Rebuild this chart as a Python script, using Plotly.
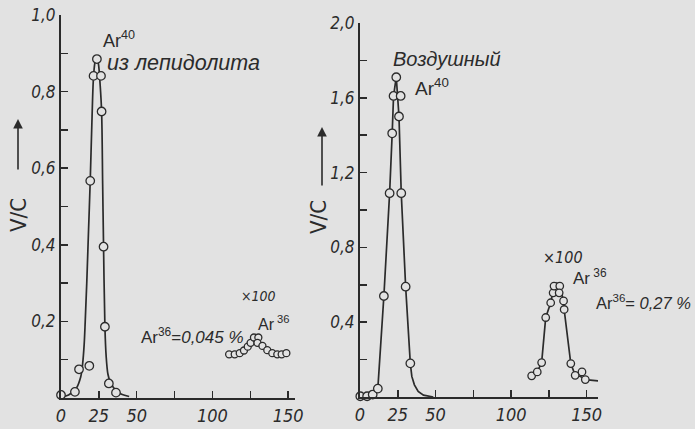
import plotly.graph_objects as go

# ---------------- data ----------------
# left panel: Ar40 from lepidolite
lep_x = [0, 9.2, 11.9, 18.7, 19.3, 21.5, 23.7, 26.4, 26.8, 28.1, 29.0, 31.6, 36.3]
lep_y = [0.008, 0.016, 0.075, 0.084, 0.567, 0.841, 0.885, 0.841, 0.748, 0.395, 0.186, 0.038, 0.014]
lep_cx = [0.5, 5, 10, 13, 14.3, 15.3, 16.0, 17.0, 18.2, 19.3, 20.4, 21.5, 22.6, 23.7, 24.8,
          25.8, 26.8, 27.5, 28.1, 29.0, 29.8, 31.0, 32.5, 34.5, 37.0, 40.0, 45.0]
lep_cy = [0.003, 0.008, 0.025, 0.055, 0.09, 0.14, 0.2, 0.3, 0.44, 0.567, 0.72, 0.84, 0.88, 0.89,
          0.87, 0.82, 0.748, 0.56, 0.395, 0.186, 0.11, 0.062, 0.042, 0.028, 0.017, 0.01, 0.004]
# left panel: Ar36 (x100)
a36l_x = [111.0, 114.7, 118.0, 120.8, 123.3, 125.2, 127.4, 130.3, 129.7, 133.0, 136.2, 139.5, 142.8, 145.7, 148.8]
a36l_y = [0.114, 0.114, 0.117, 0.124, 0.134, 0.144, 0.158, 0.158, 0.144, 0.136, 0.125, 0.117, 0.114, 0.114, 0.117]

# right panel: atmospheric Ar40
air_x = [0.2, 4.7, 8.4, 11.8, 15.8, 19.6, 21.3, 22.2, 24.0, 26.9, 25.8, 27.3, 30.2, 33.3]
air_y = [0.004, 0.004, 0.013, 0.045, 0.54, 1.09, 1.41, 1.61, 1.71, 1.61, 1.50, 1.09, 0.59, 0.18]
air_cx = [0.2, 4.7, 8.4, 11.8, 15.8, 19.6, 21.3, 22.2, 24.0, 25.8, 27.3, 30.2, 33.3, 34.3, 36.0, 38.5, 42.0, 48.5]
air_cy = [0.004, 0.004, 0.013, 0.045, 0.54, 1.09, 1.41, 1.61, 1.71, 1.50, 1.09, 0.59, 0.18, 0.11, 0.065, 0.03, 0.01, 0.0]
# right panel: Ar36 (x100)
a36r_x = [113.6, 117.3, 120.2, 122.9, 126.2, 127.8, 128.4, 132.2, 131.8, 134.7, 135.1, 139.5, 142.4, 146.9, 149.1]
a36r_y = [0.113, 0.134, 0.184, 0.425, 0.504, 0.557, 0.593, 0.593, 0.557, 0.514, 0.468, 0.179, 0.116, 0.134, 0.093]
a36r_cx = [117.3, 120.2, 122.9, 126.2, 128.4, 130.3, 132.2, 134.7, 135.1, 139.5, 142.4, 146.0, 149.1, 159.5]
a36r_cy = [0.134, 0.184, 0.425, 0.504, 0.593, 0.61, 0.593, 0.514, 0.468, 0.179, 0.116, 0.11, 0.093, 0.085]

# ticks
x_tickvals = [0, 25, 50, 100, 150]
x_ticktext = ["0", "25", "50", "100", "150"]
yl_tickvals = [0.2, 0.4, 0.6, 0.8, 1.0]
yl_ticktext = ["0,2", "0,4", "0,6", "0,8", "1,0"]
yr_tickvals = [0.4, 0.8, 1.2, 1.6, 2.0]
yr_ticktext = ["0,4", "0,8", "1,2", "1,6", "2,0"]

# ---------------- styling ----------------
W, H = 695, 429
BG = "#e2e2e2"
INK = "#2b2b2b"
FONT = "Liberation Sans Narrow, DejaVu Sans Condensed, Liberation Sans, sans-serif"
TFONT = "Liberation Sans, DejaVu Sans, sans-serif"


def px(x):
    return x / W


def py(y):
    return 1 - y / H


fig = go.Figure()

line_style = dict(color=INK, width=1.7)


def marker(size):
    return dict(symbol="circle", size=size, color=BG, line=dict(color=INK, width=1.3))


fig.add_trace(go.Scatter(x=lep_cx, y=lep_cy, mode="lines", line=line_style, line_shape="spline",
                         xaxis="x", yaxis="y", cliponaxis=False, hoverinfo="skip"))
fig.add_trace(go.Scatter(x=lep_x, y=lep_y, mode="markers", marker=marker(8.5),
                         xaxis="x", yaxis="y", cliponaxis=False))
fig.add_trace(go.Scatter(x=a36l_x, y=a36l_y, mode="markers", marker=marker(7),
                         xaxis="x", yaxis="y", cliponaxis=False))

fig.add_trace(go.Scatter(x=air_cx, y=air_cy, mode="lines", line=line_style,
                         xaxis="x2", yaxis="y2", cliponaxis=False, hoverinfo="skip"))
fig.add_trace(go.Scatter(x=air_x, y=air_y, mode="markers", marker=marker(8.5),
                         xaxis="x2", yaxis="y2", cliponaxis=False))
fig.add_trace(go.Scatter(x=a36r_cx, y=a36r_cy, mode="lines", line=line_style,
                         xaxis="x2", yaxis="y2", cliponaxis=False, hoverinfo="skip"))
fig.add_trace(go.Scatter(x=a36r_x, y=a36r_y, mode="markers", marker=marker(7.5),
                         xaxis="x2", yaxis="y2", cliponaxis=False))


def axis(size, **kw):
    d = dict(showline=True, linecolor=INK, linewidth=2, ticks="inside", ticklen=7,
             tickwidth=1.5, tickcolor=INK, showgrid=False, zeroline=False,
             automargin=False, fixedrange=True, tickmode="array",
             tickfont=dict(family=FONT, size=size, color=INK, style="italic"))
    d.update(kw)
    return d


xminor = dict(ticks="inside", ticklen=7, tickwidth=1.5, tickcolor=INK, tick0=0, dtick=25, showgrid=False)
ylminor = dict(ticks="inside", ticklen=7, tickwidth=1.5, tickcolor=INK, tick0=0, dtick=0.1, showgrid=False)
yrminor = dict(ticks="inside", ticklen=7, tickwidth=1.5, tickcolor=INK, tick0=0, dtick=0.2, showgrid=False)

fig.update_layout(
    template="none",
    width=W, height=H,
    margin=dict(l=0, r=0, t=0, b=0, pad=0),
    paper_bgcolor=BG, plot_bgcolor=BG,
    showlegend=False,
    xaxis=axis(18, domain=[px(61), px(295)], range=[0, 154.5], anchor="y",
               tickvals=x_tickvals, ticktext=x_ticktext, minor=xminor),
    yaxis=axis(17, domain=[py(398), py(15)], range=[0, 1.0], anchor="x",
               tickvals=yl_tickvals, ticktext=yl_ticktext, minor=ylminor),
    xaxis2=axis(18, domain=[px(360), px(598)], range=[0, 157.5], anchor="y2",
                tickvals=x_tickvals, ticktext=x_ticktext, minor=xminor),
    yaxis2=axis(17, domain=[py(397), py(23)], range=[0, 2.0], anchor="x2",
                tickvals=yr_tickvals, ticktext=yr_ticktext, minor=yrminor),
)


def note(text, x, y, size, italic=False, xanchor="left", yanchor="middle", angle=0, family=TFONT):
    f = dict(family=family, size=size, color=INK)
    if italic:
        f["style"] = "italic"
    fig.add_annotation(text=text, x=px(x), y=py(y), xref="paper", yref="paper",
                       xanchor=xanchor, yanchor=yanchor, showarrow=False, font=f,
                       textangle=angle)


# left panel texts
note("Ar<sup>40</sup>", 101, 53, 18, yanchor="bottom")
note("из лепидолита", 105, 63, 21.5, italic=True)
note("×100", 239, 296, 14, italic=True, family=FONT)
note("Ar<sup> 36</sup>", 256, 335, 16, yanchor="bottom")
note("Ar<sup>36</sup>=<i>0,045 %</i>", 139, 349, 17, yanchor="bottom")

# right panel texts
note("Воздушный", 391, 59, 20, italic=True)
note("Ar<sup>40</sup>", 413, 101, 19, yanchor="bottom")
note("×100", 541, 257, 16, italic=True, family=FONT)
note("Ar<sup> 36</sup>", 571, 290, 17, yanchor="bottom")
note("Ar<sup>36</sup>= <i>0,27 %</i>", 594, 314, 16.5, yanchor="bottom")

# y titles with arrows
note("V/C", 18, 215, 22, xanchor="center", yanchor="middle", angle=-90, family=FONT)
note("V/C", 318, 217, 22, xanchor="center", yanchor="middle", angle=-90, family=FONT)
for (xa, yh, yt) in [(18, 119, 171), (322, 127, 187)]:
    fig.add_annotation(text="", x=px(xa), y=py(yh), xref="paper", yref="paper",
                       ax=0, ay=yt - yh, axref="pixel", ayref="pixel",
                       showarrow=True, arrowhead=2, arrowsize=1.2, arrowwidth=1.6,
                       arrowcolor=INK)

fig.write_html("out.html", config={"displayModeBar": False, "staticPlot": True},
               post_script="document.body.style.margin='0';document.body.style.background='%s';" % BG)
